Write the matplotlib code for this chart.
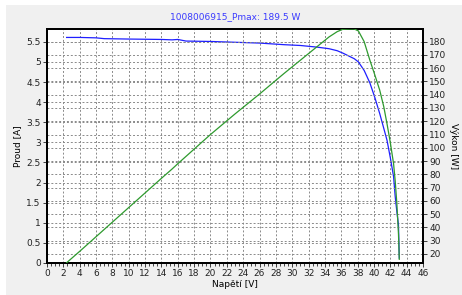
import numpy as np
import matplotlib.pyplot as plt
from matplotlib.patches import Rectangle
from matplotlib.ticker import MultipleLocator, FormatStrFormatter

# measured I-V and P-V curves of the module
voltage = [2.4, 4.0, 6.0, 7.0, 10.0, 14.0, 15.3, 16.0, 17.0, 20.0, 23.0, 26.0,
           29.0, 31.0, 33.0, 34.5, 35.5, 36.2, 37.0, 37.6, 38.1, 38.8, 39.5,
           40.1, 40.7, 41.2, 41.6, 42.0, 42.4, 42.6, 42.8, 43.0, 43.1]
current = [5.61, 5.61, 5.60, 5.58, 5.57, 5.56, 5.55, 5.56, 5.52, 5.51, 5.49, 5.47,
           5.43, 5.41, 5.37, 5.33, 5.28, 5.22, 5.14, 5.08, 5.00, 4.79, 4.48,
           4.12, 3.72, 3.35, 3.05, 2.62, 2.15, 1.65, 1.28, 0.95, 0.12]
power = [13.4, 22.0, 33.0, 38.5, 55.0, 77.0, 84.0, 88.0, 93.5, 110.0, 125.5, 140.5,
         156.0, 166.0, 176.0, 183.5, 187.5, 189.3, 189.5, 189.5, 188.0, 180.0, 166.0,
         155.0, 143.5, 131.0, 118.0, 104.0, 88.0, 75.0, 58.0, 35.0, 16.0]

title = "1008006915_Pmax: 189.5 W"

fig = plt.figure(figsize=(4.62, 2.95), dpi=100)
fig.patch.set_facecolor('white')
fig.patches.append(Rectangle((6 / 462, 0), 1, 1 - 5 / 295, transform=fig.transFigure,
                             facecolor='#f0f0f0', edgecolor='none', zorder=-10))

ax = fig.add_axes([47 / 462, 1 - 263 / 295, 376 / 462, 234 / 295])
ax.set_facecolor('white')
ax2 = ax.twinx()

fs = 6.5
grid_kw = dict(color='#8a8a8a', linestyle=(0, (2, 2)), linewidth=0.7)

ax.plot(voltage, current, color='#1f1fff', linewidth=0.9, zorder=3)
ax2.plot(voltage, power, color='#2e9a2e', linewidth=0.9, zorder=3)

ax.set_xlim(0, 46)
ax.set_ylim(0, 5.82)
ax2.set_ylim(13.2, 189.5)

ax.xaxis.set_major_locator(MultipleLocator(2))
ax.xaxis.set_minor_locator(MultipleLocator(0.5))
ax.yaxis.set_major_locator(MultipleLocator(0.5))
ax.yaxis.set_major_formatter(FormatStrFormatter('%g'))
ax2.set_yticks(np.arange(20, 190, 10))

ax.grid(True, which='major', axis='both', **grid_kw)
ax2.grid(True, which='major', axis='y', **grid_kw)
ax.set_axisbelow(True)

ax.tick_params(axis='both', labelsize=fs, colors='#222222', length=3, width=0.6, pad=1.5)
ax.tick_params(axis='x', which='minor', length=2, width=0.5)
ax2.tick_params(axis='y', labelsize=fs, colors='#222222', length=3, width=0.6, pad=1.5)

for a in (ax, ax2):
    for s in a.spines.values():
        s.set_linewidth(1.4)
        s.set_color('black')

ax.set_xlabel('Napětí [V]', fontsize=fs, labelpad=1)
ax.set_ylabel('Proud [A]', fontsize=fs, labelpad=3)
ax2.set_ylabel('Výkon [W]', fontsize=fs, rotation=270, labelpad=8)
ax.set_title(title, fontsize=fs, color='#3a3aff', pad=7)

fig.savefig('out.png', dpi=100, facecolor=fig.get_facecolor())
